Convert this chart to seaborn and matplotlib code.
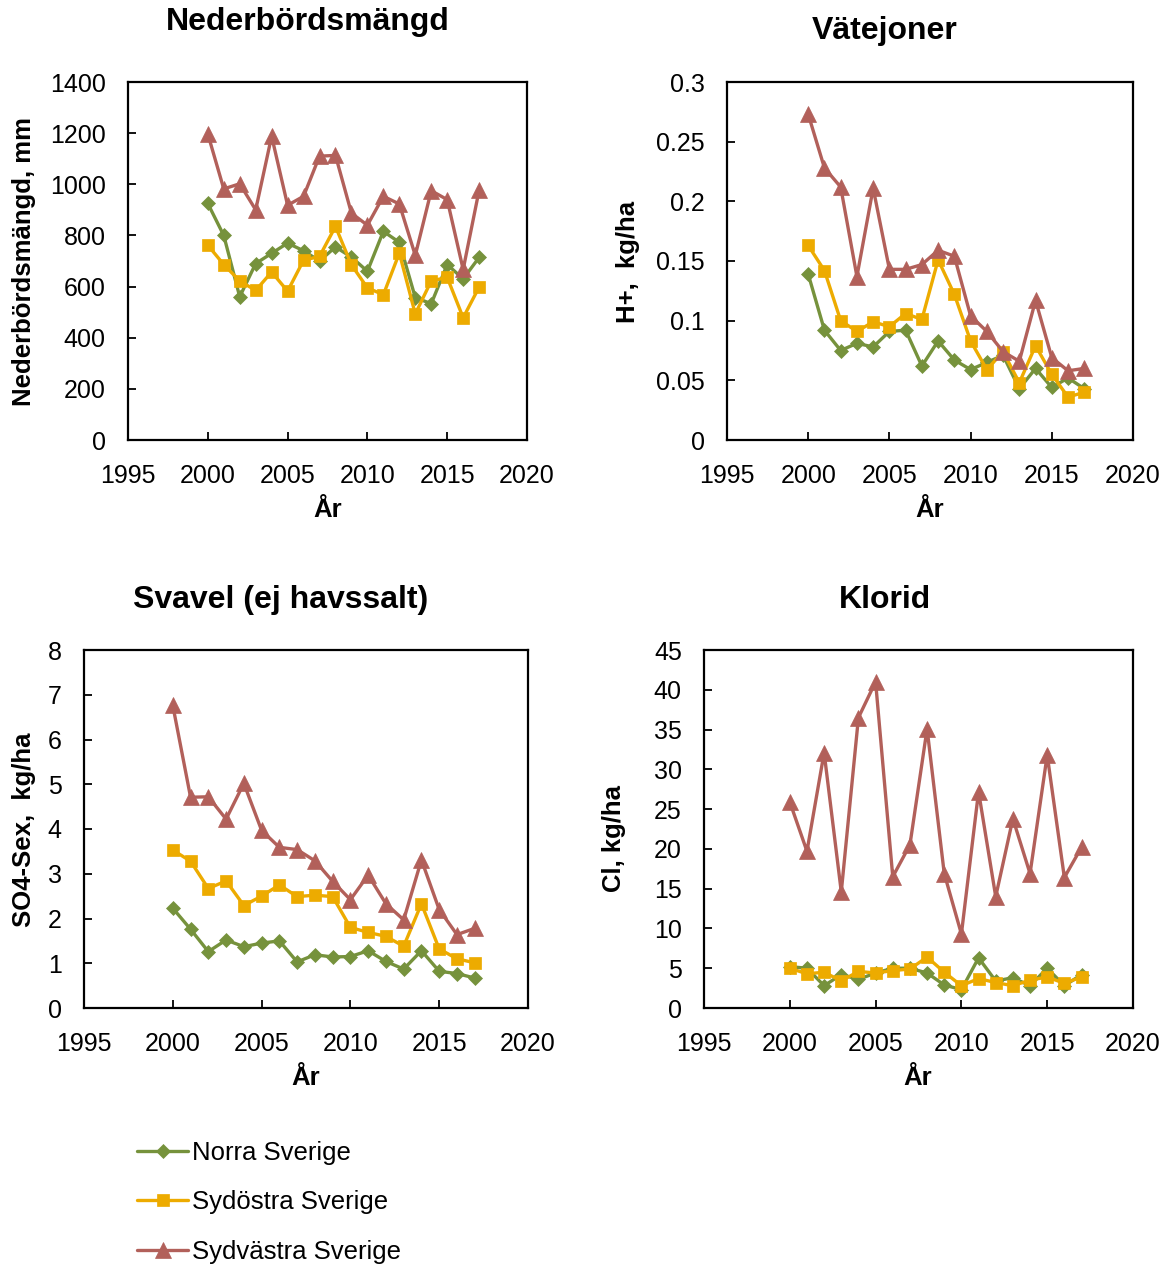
import matplotlib
matplotlib.use("Agg")
import matplotlib.pyplot as plt
import seaborn as sns
from matplotlib.ticker import FuncFormatter, MultipleLocator

years = [2000, 2001, 2002, 2003, 2004, 2005, 2006, 2007, 2008,
         2009, 2010, 2011, 2012, 2013, 2014, 2015, 2016, 2017]
regions = ["Norra Sverige", "Sydöstra Sverige", "Sydvästra Sverige"]

# Nederbördsmängd (mm)
norra_precip = [925, 800, 560, 690, 730, 770, 740, 700, 755, 715, 660, 816, 773, 557, 533, 686, 630, 714]
ost_precip = [762, 686, 622, 585, 657, 582, 703, 718, 835, 685, 595, 568, 731, 493, 622, 636, 478, 598]
vast_precip = [1197, 982, 1002, 900, 1188, 918, 953, 1110, 1113, 887, 840, 953, 923, 722, 975, 940, 667, 977]

# Vätejoner H+ (kg/ha)
norra_h = [0.139, 0.092, 0.075, 0.081, 0.078, 0.091, 0.092, 0.062, 0.083, 0.067, 0.059, 0.065, 0.071, 0.043, 0.060, 0.044, 0.052, 0.043]
ost_h = [0.163, 0.142, 0.100, 0.091, 0.099, 0.095, 0.106, 0.101, 0.151, 0.122, 0.083, 0.059, 0.074, 0.048, 0.079, 0.055, 0.036, 0.040]
vast_h = [0.273, 0.228, 0.212, 0.137, 0.211, 0.143, 0.143, 0.147, 0.159, 0.154, 0.104, 0.091, 0.074, 0.066, 0.117, 0.069, 0.058, 0.060]

# Svavel SO4-Sex (kg/ha)
norra_s = [2.23, 1.76, 1.26, 1.52, 1.37, 1.45, 1.50, 1.03, 1.19, 1.14, 1.15, 1.28, 1.04, 0.87, 1.28, 0.82, 0.77, 0.67]
ost_s = [3.53, 3.28, 2.67, 2.84, 2.29, 2.50, 2.75, 2.49, 2.52, 2.49, 1.80, 1.69, 1.60, 1.38, 2.33, 1.32, 1.10, 1.01]
vast_s = [6.76, 4.71, 4.72, 4.22, 5.02, 3.97, 3.59, 3.54, 3.29, 2.83, 2.42, 2.97, 2.33, 1.97, 3.31, 2.20, 1.64, 1.78]

# Klorid Cl (kg/ha)
norra_cl = [5.2, 5.0, 2.8, 4.2, 3.6, 4.4, 5.0, 5.0, 4.4, 2.9, 2.3, 6.3, 3.4, 3.8, 2.8, 5.0, 2.8, 4.2]
ost_cl = [5.0, 4.3, 4.5, 3.4, 4.6, 4.4, 4.7, 4.9, 6.4, 4.5, 2.8, 3.7, 3.2, 2.8, 3.5, 3.9, 3.1, 3.9]
vast_cl = [25.9, 19.7, 32.1, 14.6, 36.5, 41.0, 16.5, 20.5, 35.1, 16.9, 9.3, 27.2, 14.0, 23.8, 16.9, 31.8, 16.4, 20.2]

titles = ["Nederbördsmängd", "Vätejoner", "Svavel (ej havssalt)", "Klorid"]
ylabels = ["Nederbördsmängd, mm", "H+,  kg/ha", "SO4-Sex,  kg/ha", "Cl, kg/ha"]
xlabel = "År"

sns.set_theme(style="white")
plt.rcParams["font.family"] = ["Liberation Sans", "DejaVu Sans"]
plt.rcParams["text.color"] = "black"
plt.rcParams["axes.labelcolor"] = "black"
plt.rcParams["xtick.color"] = "black"
plt.rcParams["ytick.color"] = "black"

colors = ["#76923C", "#EDAB00", "#B2605A"]
markers = ["D", "s", "^"]
msizes = [7.5, 9, 11]

W, H = 1171, 1266
fig = plt.figure(figsize=(W / 100, H / 100), dpi=100)


def box(l, t, r, b):
    return [l / W, (H - b) / H, (r - l) / W, (b - t) / H]


panels = [
    dict(rect=box(128, 82, 527, 440), data=[norra_precip, ost_precip, vast_precip],
         ylim=(0, 1400), ystep=200, title_xy=(308, 22), ylab_xy=(24, 261), xlab_xy=(328, 510)),
    dict(rect=box(727, 82, 1133, 440), data=[norra_h, ost_h, vast_h],
         ylim=(0, 0.3), ystep=0.05, title_xy=(885, 31), ylab_xy=(628, 262), xlab_xy=(930, 510)),
    dict(rect=box(84, 650, 528, 1008), data=[norra_s, ost_s, vast_s],
         ylim=(0, 8), ystep=1, title_xy=(281, 600), ylab_xy=(24, 830), xlab_xy=(306, 1078)),
    dict(rect=box(704, 650, 1133, 1008), data=[norra_cl, ost_cl, vast_cl],
         ylim=(0, 45), ystep=5, title_xy=(885, 600), ylab_xy=(614, 838), xlab_xy=(918, 1078)),
]

axes = []
for i, p in enumerate(panels):
    ax = fig.add_axes(p["rect"])
    axes.append(ax)
    for k in range(3):
        sns.lineplot(x=years, y=p["data"][k], ax=ax, color=colors[k], marker=markers[k],
                     markersize=msizes[k], markeredgecolor=colors[k], markeredgewidth=0.5,
                     linewidth=2.4, label=regions[k], legend=False)
    ax.set_xlim(1995, 2020)
    ax.set_ylim(*p["ylim"])
    ax.xaxis.set_major_locator(MultipleLocator(5))
    ax.yaxis.set_major_locator(MultipleLocator(p["ystep"]))
    ax.yaxis.set_major_formatter(FuncFormatter(lambda v, pos: ("%.2f" % v).rstrip("0").rstrip(".") if v != 0 else "0"))
    ax.tick_params(axis="x", direction="in", length=6, width=1.3, pad=17, labelsize=18,
                   bottom=True, top=False, colors="black")
    ax.tick_params(axis="y", direction="in", length=6, width=1.3, pad=16, labelsize=18,
                   left=True, right=False, colors="black")
    for s in ax.spines.values():
        s.set_visible(True)
        s.set_color("black")
        s.set_linewidth(1.6)
    ax.set_xlabel("")
    ax.set_ylabel("")
    ax.grid(False)
    tx, ty = p["title_xy"]
    fig.text(tx / W, 1 - ty / H, titles[i], ha="center", va="center", fontsize=23,
             fontweight="bold", color="black")
    lx, ly = p["ylab_xy"]
    fig.text(lx / W, 1 - ly / H, ylabels[i], ha="center", va="center", rotation=90,
             fontsize=18.5, fontweight="bold", color="black")
    xx, xy = p["xlab_xy"]
    fig.text(xx / W, 1 - xy / H, xlabel, ha="center", va="center", fontsize=18.5,
             fontweight="bold", color="black")

handles = axes[0].get_lines()[:3]
leg = fig.legend(handles=handles, labels=regions, loc="upper left",
                 bbox_to_anchor=(137 / W, 1 - 1141 / H), frameon=False, fontsize=18.5,
                 handlelength=2.0, handletextpad=0.15, labelspacing=0.99,
                 borderpad=0, borderaxespad=0)
for t in leg.get_texts():
    t.set_color("black")

fig.savefig("out.png", dpi=100)
